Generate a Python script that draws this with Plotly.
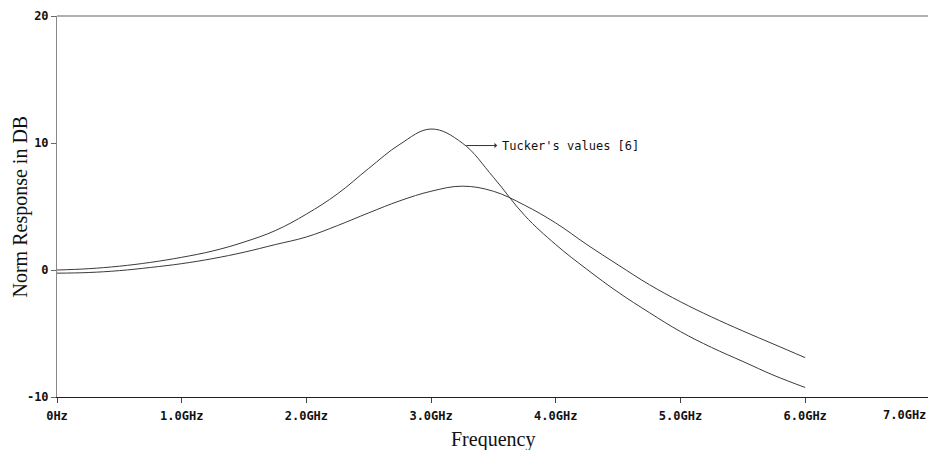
import plotly.graph_objects as go

freq_ghz = [0.0, 0.25, 0.5, 0.75, 1.0, 1.25, 1.5, 1.75, 2.0, 2.25, 2.5, 2.75, 3.0,
            3.25, 3.5, 3.75, 4.0, 4.25, 4.5, 4.75, 5.0, 5.25, 5.5, 5.75, 6.0]
tucker_db = [0.0, 0.1, 0.3, 0.6, 1.0, 1.5, 2.2, 3.1, 4.4, 6.0, 8.0, 9.9, 11.1,
             10.0, 7.3, 4.3, 2.0, 0.05, -1.75, -3.35, -4.85, -6.1, -7.2, -8.3, -9.25]
model_db = [-0.25, -0.2, -0.05, 0.2, 0.5, 0.9, 1.4, 2.0, 2.6, 3.5, 4.5, 5.45, 6.2,
            6.6, 6.2, 5.1, 3.7, 2.0, 0.4, -1.15, -2.5, -3.7, -4.8, -5.85, -6.9]

x_tickvals = [0, 1, 2, 3, 4, 5, 6]
x_ticktext = ["0Hz", "1.0GHz", "2.0GHz", "3.0GHz", "4.0GHz", "5.0GHz", "6.0GHz"]
y_tickvals = [-10, 0, 10, 20]
y_ticktext = ["-10", "0", "10", "20"]

mono = "DejaVu Sans Mono"
serif = "Liberation Serif"
tick_font = dict(family=mono, size=12, color="#111", weight="bold")

fig = go.Figure()
for ys in (tucker_db, model_db):
    fig.add_trace(go.Scatter(x=freq_ghz, y=ys, mode="lines",
                             line=dict(color="#3a3a3a", width=1, shape="spline", smoothing=1.1),
                             showlegend=False, hoverinfo="skip"))

fig.update_layout(
    width=928, height=450,
    margin=dict(l=57, r=0, t=16, b=53),
    paper_bgcolor="white", plot_bgcolor="white",
    xaxis=dict(range=[0, 6.985], tickvals=x_tickvals, ticktext=x_ticktext,
               showgrid=False, zeroline=False, showline=True, linecolor="#222", linewidth=1,
               ticks="outside", ticklen=5, tickcolor="#444", tickfont=tick_font,
               ticklabelstandoff=3),
    yaxis=dict(range=[-10, 20], tickvals=y_tickvals, ticktext=y_ticktext,
               showgrid=False, zeroline=False, showline=True, linecolor="#888", linewidth=1,
               ticks="outside", ticklen=5, tickcolor="#666", tickfont=tick_font),
)

# top border
fig.add_shape(type="line", xref="paper", yref="paper", x0=0, x1=1, y0=1, y1=1,
              line=dict(color="#b0b0b0", width=2))

# 7.0GHz label at right edge (axis end sits just outside the window)
fig.add_annotation(xref="paper", yref="paper", x=1, y=0, yshift=-9, xanchor="right", yanchor="top",
                   text="7.0GHz", showarrow=False, font=tick_font)

# axis titles
fig.add_annotation(xref="paper", yref="paper", x=0.5, y=0, yshift=-29, yanchor="top",
                   text="Frequency", showarrow=False, font=dict(family=serif, size=20, color="#111"))
fig.add_annotation(xref="paper", yref="paper", x=0, xshift=-37, y=0.5, xanchor="center",
                   text="Norm Response in DB", textangle=-90, showarrow=False,
                   font=dict(family=serif, size=20, color="#111"))

# Tucker's label with arrow
fig.add_annotation(x=3.53, y=9.8, ax=3.27, ay=9.8, axref="x", ayref="y", xref="x", yref="y",
                   text="", showarrow=True, arrowhead=1, arrowsize=0.9, arrowwidth=1, arrowcolor="#333")
fig.add_annotation(x=3.55, y=9.8, xanchor="left", yanchor="middle", text="Tucker's values [6]",
                   showarrow=False, font=dict(family=mono, size=12, color="#111"))

fig.write_html("out.html")
